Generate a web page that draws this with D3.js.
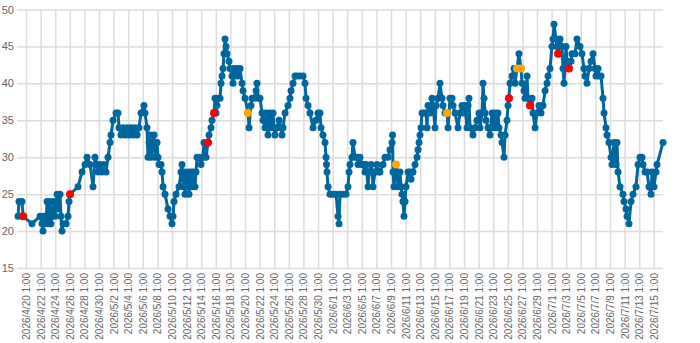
<html>
<head>
<style>
  body { margin: 0; background: #fff; }
  svg text { font-family: 'Liberation Sans', Arial, sans-serif; fill: #666; }
</style>
</head>
<body>
  <div id = 'chart'></div>
  <script src = 'https://d3js.org/d3.v7.min.js'></script>
  <script>
  // days after 2026/4/20 1:00 for every reading
  var dayOffsets = [
    -1.10,-0.96,-0.55,-0.41,0.82,1.92,2.19,2.33,2.47,2.74,2.88,3.01,3.15,3.29,3.42,3.56,3.84,3.97,4.25,4.38,4.66,4.79,4.93,5.07,5.48,5.75,5.89,6.03,
    7.12,7.67,8.08,8.36,8.77,9.18,9.45,9.73,9.86,10.14,
    10.41,10.68,10.96,11.23,11.51,11.64,11.92,12.33,12.60,12.74,
    13.01,13.29,13.56,13.84,14.11,14.38,14.66,14.93,15.21,15.48,
    15.75,16.16,16.30,16.58,16.71,16.85,16.99,17.12,17.40,17.53,
    17.67,17.95,18.08,18.22,18.49,18.63,18.77,19.04,19.45,19.73,
    20.00,20.14,20.27,20.55,20.96,21.23,21.37,21.51,21.64,21.78,
    22.05,22.33,22.47,22.74,22.88,23.15,23.29,23.42,23.70,23.97,
    24.25,24.38,24.66,24.93,25.07,25.34,25.48,25.75,25.89,26.03,
    26.16,26.30,26.58,26.71,26.85,26.99,27.12,27.26,27.40,27.53,
    27.81,27.95,28.22,28.36,28.49,28.63,28.90,29.04,29.32,29.59,
    29.73,30.00,30.41,30.55,30.82,30.96,31.23,31.51,31.64,31.78,
    32.05,32.33,32.47,32.74,32.88,33.15,33.29,33.42,33.56,33.84,
    33.97,34.11,34.38,34.66,34.93,35.07,35.21,35.48,35.89,36.16,
    36.30,36.58,36.85,37.12,37.53,37.95,38.22,38.36,38.63,38.90,
    39.32,39.73,40.00,40.27,40.41,40.68,40.96,41.10,41.16,41.23,
    41.37,41.64,42.05,42.47,42.74,42.88,43.01,43.42,43.84,44.11,
    44.25,44.38,44.66,44.79,45.07,45.34,45.48,45.75,46.03,46.16,
    46.44,46.58,46.85,46.99,47.26,47.40,47.53,47.81,48.08,48.36,
    48.49,48.90,49.18,49.59,49.86,50.14,50.21,50.27,50.41,50.68,
    50.82,50.96,51.23,51.37,51.51,51.64,51.78,51.92,52.05,52.33,
    52.60,52.74,53.01,53.29,53.56,53.70,53.84,53.97,54.11,54.25,
    54.52,54.79,54.93,55.07,55.34,55.62,55.75,56.03,56.16,56.44,
    56.71,56.99,57.12,57.40,57.67,57.81,58.08,58.36,58.49,58.77,
    59.18,59.45,59.73,59.86,60.14,60.41,60.55,60.68,60.82,61.23,
    61.51,61.78,62.05,62.19,62.47,62.60,62.74,62.88,63.01,63.29,
    63.56,63.84,63.97,64.25,64.38,64.66,64.79,65.07,65.21,65.48,
    65.62,65.89,66.03,66.16,66.30,66.58,66.85,66.99,67.26,67.53,
    67.81,67.95,68.22,68.36,68.63,68.77,69.04,69.32,69.45,69.73,
    70.00,70.27,70.55,70.82,71.10,71.37,71.51,71.78,72.05,72.19,
    72.33,72.60,72.74,72.88,73.15,73.42,73.56,73.70,73.97,74.11,
    74.38,74.66,74.79,75.21,75.48,75.89,76.16,76.44,76.58,76.85,
    77.12,77.40,77.67,77.95,78.08,78.36,78.49,78.77,79.04,79.18,
    79.45,79.59,79.86,80.14,80.27,80.55,80.68,80.82,80.96,81.10,
    81.37,81.78,81.92,82.19,82.33,82.60,82.88,83.15,83.56,83.84,
    84.11,84.38,84.52,84.79,85.07,85.34,85.62,85.75,86.03,86.30,
    86.44,87.26
  ];
  var values = [
    22,24,24,22,21,22,21,20,22,21,24,22,21,24,21,22,24,22,25,23,25,22,20,21,21,22,24,25,
    26,28,29,30,29,26,30,29,28,29,
    28,29,28,30,32,33,35,36,36,34,
    33,34,33,34,33,34,33,34,33,34,
    36,37,36,34,30,32,33,30,32,33,
    30,32,30,29,29,28,26,25,23,22,
    21,22,24,25,26,28,29,26,28,25,
    28,25,28,26,28,26,28,30,30,29,
    30,32,30,32,33,34,35,36,38,36,
    37,38,38,40,41,42,44,46,45,44,
    43,42,41,40,42,41,42,41,42,40,
    39,38,36,34,37,38,38,39,40,38,
    38,36,35,34,36,33,35,36,34,36,
    34,33,34,35,34,33,34,36,37,38,
    39,40,41,41,41,41,40,38,37,36,
    34,35,36,36,34,33,32,30,29,28,
    26,25,25,25,22,21,25,25,25,26,
    28,29,30,32,30,30,29,30,29,29,
    28,29,26,28,29,28,26,28,29,28,
    28,29,30,30,31,32,33,28,26,29,
    28,26,28,26,25,24,22,24,26,28,
    28,27,28,29,30,31,32,33,34,36,
    36,36,34,37,36,38,37,34,37,38,
    40,38,37,36,36,34,38,38,37,36,
    34,36,37,36,37,34,37,38,34,33,
    34,35,36,34,36,40,38,36,35,34,
    33,36,34,36,34,36,34,33,32,30,
    33,35,37,38,40,41,42,40,42,44,
    42,40,39,38,41,38,37,38,36,34,
    36,37,36,37,39,40,41,42,45,46,
    48,46,45,44,46,45,42,40,45,43,
    42,43,44,44,46,45,44,42,41,40,
    42,43,44,42,41,42,41,41,38,36,
    34,33,32,30,29,32,30,29,32,28,
    26,25,24,23,22,21,24,25,26,29,
    30,30,29,28,28,26,25,28,26,28,
    29,32
  ];
  var redDays = [-0.41, 6.03, 24.93, 25.75, 66.16, 69.04, 72.88, 74.38],
      redValues = [22, 25, 32, 36, 38, 37, 44, 42],
      orangeDays = [30.41, 50.68, 57.67, 67.26, 67.81],
      orangeValues = [36, 29, 36, 42, 42],
      yTicks = d3.range(15, 51, 5),
      labelDays = d3.range(0, 87, 2);

  var svgWidth = 700,
      svgHeight = 343,
      plotLeft = 17, plotRight = 663, plotTop = 9.5, plotBottom = 268,
      base = new Date(2026, 3, 20, 1),
      blue = '#00669e';

  function toDate(d){
    return new Date(base.getTime() + d * 864e5);
  }

  var points = dayOffsets.map(function(d, i){ return {t: toDate(d), v: values[i]}; }),
      reds = redDays.map(function(d, i){ return {t: toDate(d), v: redValues[i]}; }),
      oranges = orangeDays.map(function(d, i){ return {t: toDate(d), v: orangeValues[i]}; });

  var x = d3.scaleTime()
            .domain(d3.extent(points, function(p){ return p.t; }))
            .range([plotLeft + 1, plotRight]),
      y = d3.scaleLinear().domain([15, 50]).range([plotBottom, plotTop]);

  var svg = d3.select('#chart').append('svg')
              .attr('width', svgWidth)
              .attr('height', svgHeight);

  var yAxis = svg.append('g')
    .attr('transform', 'translate(' + plotLeft + ',0)')
    .call(d3.axisLeft(y).tickValues(yTicks).tickSize(-(plotRight - plotLeft)).tickPadding(3));
  yAxis.select('.domain').remove();
  yAxis.selectAll('line').attr('stroke', '#dcdcdc').attr('stroke-width', 1.5);
  yAxis.selectAll('text').style('font-size', '11px');

  var xAxis = svg.append('g')
    .attr('transform', 'translate(0,' + plotBottom + ')')
    .call(d3.axisBottom(x)
      .tickValues(labelDays.map(function(d){ return d3.timeDay.offset(base, d); }))
      .tickFormat(d3.timeFormat('%Y/%-m/%-d %-H:%M'))
      .tickSize(-(plotBottom - plotTop)));
  xAxis.select('.domain').remove();
  xAxis.selectAll('line').attr('stroke', '#dcdcdc').attr('stroke-width', 1.5);
  xAxis.selectAll('text')
    .attr('transform', 'rotate(-90)')
    .attr('x', -5)
    .attr('y', 0)
    .attr('dy', '0.35em')
    .style('text-anchor', 'end')
    .style('font-size', '10px');

  var line = d3.line()
    .x(function(p){ return x(p.t); })
    .y(function(p){ return y(p.v); });

  svg.append('path')
    .datum(points)
    .attr('d', line)
    .attr('fill', 'none')
    .attr('stroke', blue)
    .attr('stroke-width', 3)
    .attr('stroke-linejoin', 'round');

  svg.selectAll('circle.pt')
    .data(points)
    .enter()
    .append('circle')
    .attr('class', 'pt')
    .attr('cx', function(p){ return x(p.t); })
    .attr('cy', function(p){ return y(p.v); })
    .attr('r', 3.5)
    .attr('fill', blue);

  svg.selectAll('circle.red')
    .data(reds)
    .enter()
    .append('circle')
    .attr('class', 'red')
    .attr('cx', function(p){ return x(p.t); })
    .attr('cy', function(p){ return y(p.v); })
    .attr('r', 4)
    .attr('fill', '#ff0000');

  svg.selectAll('circle.orange')
    .data(oranges)
    .enter()
    .append('circle')
    .attr('class', 'orange')
    .attr('cx', function(p){ return x(p.t); })
    .attr('cy', function(p){ return y(p.v); })
    .attr('r', 4)
    .attr('fill', '#ffa500');
  </script>
</body>
</html>
